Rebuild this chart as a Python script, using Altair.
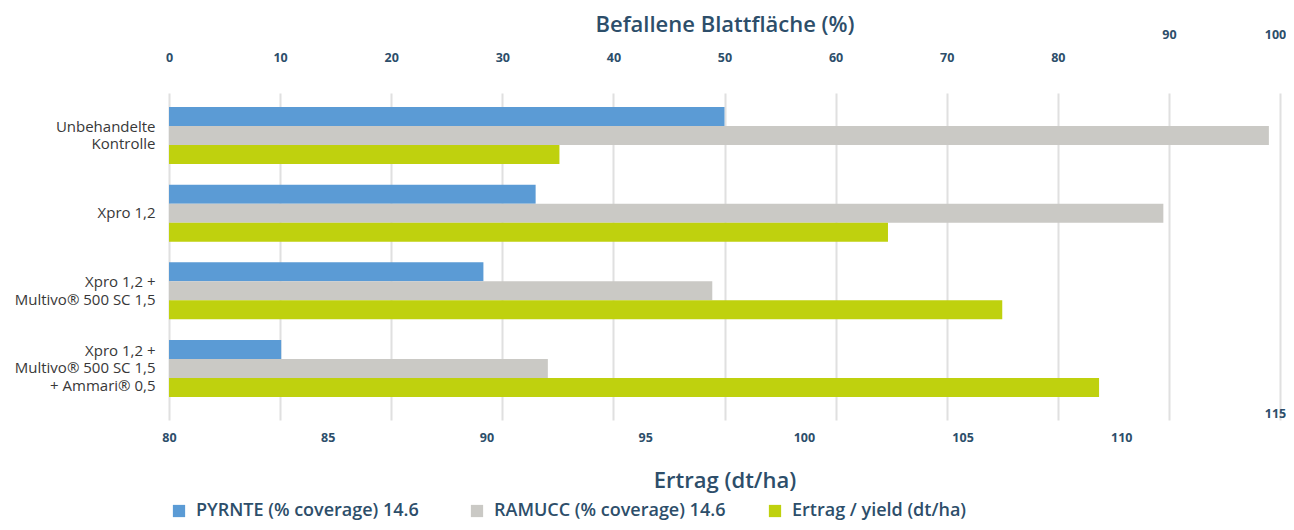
import altair as alt
import pandas as pd

categories = [
    "Unbehandelte|Kontrolle",
    "Xpro 1,2",
    "Xpro 1,2 +|Multivo® 500 SC 1,5",
    "Xpro 1,2 +|Multivo® 500 SC 1,5|+ Ammari® 0,5",
]
series = ["PYRNTE (% coverage) 14.6", "RAMUCC (% coverage) 14.6", "Ertrag / yield (dt/ha)"]
colors = ["#5b9bd5", "#cac9c5", "#bfd10e"]

pyrnte = [50, 33, 28.3, 10.1]
ramucc = [99, 89.5, 48.9, 34.1]
ertrag = [92.3, 102.65, 106.25, 109.3]

top_ticks = [0, 10, 20, 30, 40, 50, 60, 70, 80, 90, 100]
bottom_ticks = [80, 85, 90, 95, 100, 105, 110, 115]

cov = pd.DataFrame(
    [{"cat": c, "series": series[0], "value": v} for c, v in zip(categories, pyrnte)]
    + [{"cat": c, "series": series[1], "value": v} for c, v in zip(categories, ramucc)]
)
yld = pd.DataFrame({"cat": categories, "series": series[2], "value": ertrag})

FONT = "Open Sans"
AX = "#2d4e6a"
LH = 17.5

yscale = alt.Scale(paddingInner=0.266, paddingOuter=0.238, align=0.378)
yaxis = alt.Axis(
    labelExpr="split(datum.label, '|')",
    labelFont=FONT,
    labelFontSize=15,
    labelColor="#383838",
    labelLineHeight=LH,
    labelPadding=14,
    labelOffset={
        "condition": [
            {"test": "length(split(datum.value, '|')) == 3", "value": -LH},
            {"test": "length(split(datum.value, '|')) == 2", "value": -LH / 2},
        ],
        "value": 0,
    },
    ticks=False,
    domain=False,
    grid=False,
    labelLimit=300,
)
yoff = alt.YOffset("series:N", sort=series, scale=alt.Scale(domain=series))
color = alt.Color(
    "series:N",
    scale=alt.Scale(domain=series, range=colors),
    legend=alt.Legend(
        title=None,
        orient="none",
        legendX=1,
        legendY=409,
        direction="horizontal",
        columns=3,
        gridAlign="all",
        columnPadding=40,
        symbolType="square",
        symbolSize=150,
        symbolStrokeWidth=0,
        symbolOffset=0,
        labelFont=FONT,
        labelFontSize=18,
        labelFontWeight=600,
        labelColor=AX,
        labelLimit=400,
        labelOffset=8,
    ),
)

cov_layer = alt.Chart(cov).mark_bar().encode(
    y=alt.Y("cat:N", sort=categories, scale=yscale, title=None, axis=yaxis),
    yOffset=yoff,
    x=alt.X(
        "value:Q",
        scale=alt.Scale(domain=[0, 100], nice=False),
        title="Befallene Blattfläche (%)",
        axis=alt.Axis(
            orient="top",
            values=top_ticks,
            grid=True,
            gridColor="#e0e0e0",
            gridWidth=2,
            ticks=False,
            domain=False,
            labelFlush=False,
            labelFont=FONT,
            labelFontSize=12.5,
            labelFontWeight="bold",
            labelColor=AX,
            labelPadding={"condition": {"test": "datum.value >= 90", "value": 52}, "value": 29},
            labelOffset={"condition": {"test": "datum.value >= 100", "value": -5}, "value": 0},
            titleFont=FONT,
            titleFontSize=22,
            titleFontWeight=600,
            titleColor=AX,
            titleBaseline="middle",
            titleY=-69,
        ),
    ),
    color=color,
)

yld_layer = alt.Chart(yld).mark_bar().encode(
    y=alt.Y("cat:N", sort=categories, scale=yscale, title=None, axis=yaxis),
    yOffset=yoff,
    x=alt.X(
        "value:Q",
        scale=alt.Scale(domain=[80, 115], nice=False, zero=False),
        title="Ertrag (dt/ha)",
        axis=alt.Axis(
            orient="bottom",
            values=bottom_ticks,
            grid=False,
            ticks=False,
            domain=False,
            labelFlush=False,
            labelFont=FONT,
            labelFontSize=12.5,
            labelFontWeight="bold",
            labelColor=AX,
            labelPadding={"condition": {"test": "datum.value >= 115", "value": -13}, "value": 11},
            labelOffset={"condition": {"test": "datum.value >= 115", "value": -5}, "value": 0},
            titleFont=FONT,
            titleFontSize=22,
            titleFontWeight=600,
            titleColor=AX,
            titleBaseline="middle",
            titleY=60,
        ),
    ),
    x2=alt.X2(datum=80),
    color=color,
)

chart = (
    alt.layer(cov_layer, yld_layer)
    .resolve_scale(x="independent")
    .properties(
        width=1111,
        height=327,
        autosize=alt.AutoSizeParams(type="none"),
        padding={"left": 161, "top": 85, "right": 6, "bottom": 101},
    )
    .configure_view(stroke=None)
)

chart.save("out.html", embed_options={"renderer": "svg", "actions": False})
